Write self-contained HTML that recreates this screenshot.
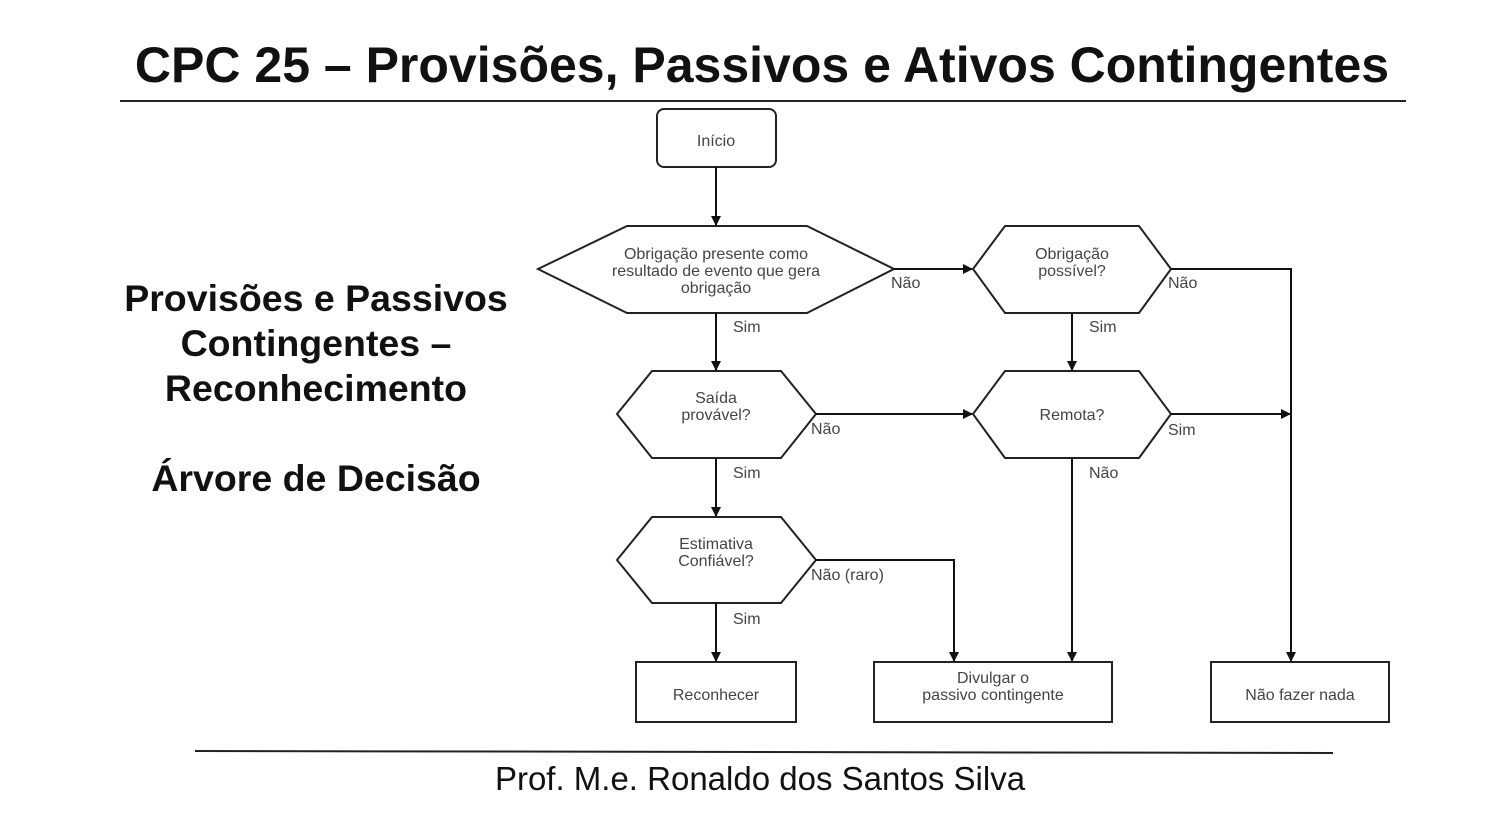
<!DOCTYPE html>
<html><head><meta charset="utf-8"><style>
body{margin:0;width:1493px;height:837px;background:#fff;overflow:hidden;position:relative;font-family:"Liberation Sans",sans-serif}
.t{position:absolute;left:0;width:1524px;text-align:center;top:36px;font-size:50px;font-weight:bold;color:#111}
.side{position:absolute;left:80px;width:472px;text-align:center;top:276px;font-size:37.5px;font-weight:bold;line-height:45px;color:#111}
.foot{position:absolute;left:0;width:1520px;text-align:center;top:760px;font-size:33px;color:#111}
</style></head><body>
<div class="t">CPC 25 – Provisões, Passivos e Ativos Contingentes</div>
<div class="side">Provisões e Passivos<br>Contingentes –<br>Reconhecimento<br><br>Árvore de Decisão</div>
<div class="foot">Prof. M.e. Ronaldo dos Santos Silva</div>
<svg width="1493" height="837" style="position:absolute;left:0;top:0" font-family="Liberation Sans, sans-serif" font-size="16" fill="#444">
<defs><marker id="a" markerWidth="10" markerHeight="10" refX="9" refY="5" orient="auto" markerUnits="userSpaceOnUse"><path d="M0,0 L10,5 L0,10z" fill="#111"/></marker></defs>
<line x1="120" y1="101" x2="1406" y2="101" stroke="#222" stroke-width="2"/>
<line x1="195" y1="751" x2="1333" y2="753" stroke="#222" stroke-width="2"/>
<g stroke="#222" stroke-width="2" fill="none">
<rect x="657" y="109" width="119" height="58" rx="7"/>
<polygon points="538,269 627,226 807,226 894,269 807,313 627,313"/>
<polygon points="973,269 1005,226 1139,226 1171,269 1139,313 1005,313"/>
<polygon points="617,414 652,371 781,371 816,414 781,458 652,458"/>
<polygon points="973,414 1005,371 1139,371 1171,414 1139,458 1005,458"/>
<polygon points="617,560 652,517 781,517 816,560 781,603 652,603"/>
<rect x="636" y="662" width="160" height="60"/>
<rect x="874" y="662" width="238" height="60"/>
<rect x="1211" y="662" width="178" height="60"/>
</g>
<g stroke="#111" stroke-width="2" fill="none" marker-end="url(#a)">
<line x1="716" y1="167" x2="716" y2="225"/>
<line x1="894" y1="269" x2="972" y2="269"/>
<line x1="716" y1="313" x2="716" y2="370"/>
<polyline points="1171,269 1291,269 1291,661"/>
<line x1="1072" y1="313" x2="1072" y2="370"/>
<line x1="816" y1="414" x2="972" y2="414"/>
<line x1="1171" y1="414" x2="1290" y2="414"/>
<line x1="716" y1="458" x2="716" y2="516"/>
<line x1="1072" y1="458" x2="1072" y2="661"/>
<polyline points="816,560 954,560 954,661"/>
<line x1="716" y1="603" x2="716" y2="661"/>
</g>
<g text-anchor="middle">
<text x="716" y="146">Início</text>
<text x="716" y="259">Obrigação presente como</text>
<text x="716" y="276">resultado de evento que gera</text>
<text x="716" y="293">obrigação</text>
<text x="1072" y="259">Obrigação</text>
<text x="1072" y="276">possível?</text>
<text x="716" y="403">Saída</text>
<text x="716" y="420">provável?</text>
<text x="1072" y="420">Remota?</text>
<text x="716" y="549">Estimativa</text>
<text x="716" y="566">Confiável?</text>
<text x="716" y="700">Reconhecer</text>
<text x="993" y="683">Divulgar o</text>
<text x="993" y="700">passivo contingente</text>
<text x="1300" y="700">Não fazer nada</text>
</g>
<g>
<text x="891" y="288">Não</text>
<text x="1168" y="288">Não</text>
<text x="733" y="332">Sim</text>
<text x="1089" y="332">Sim</text>
<text x="811" y="434">Não</text>
<text x="1168" y="435">Sim</text>
<text x="733" y="478">Sim</text>
<text x="1089" y="478">Não</text>
<text x="811" y="580">Não (raro)</text>
<text x="733" y="624">Sim</text>
</g>
</svg>
</body></html>
